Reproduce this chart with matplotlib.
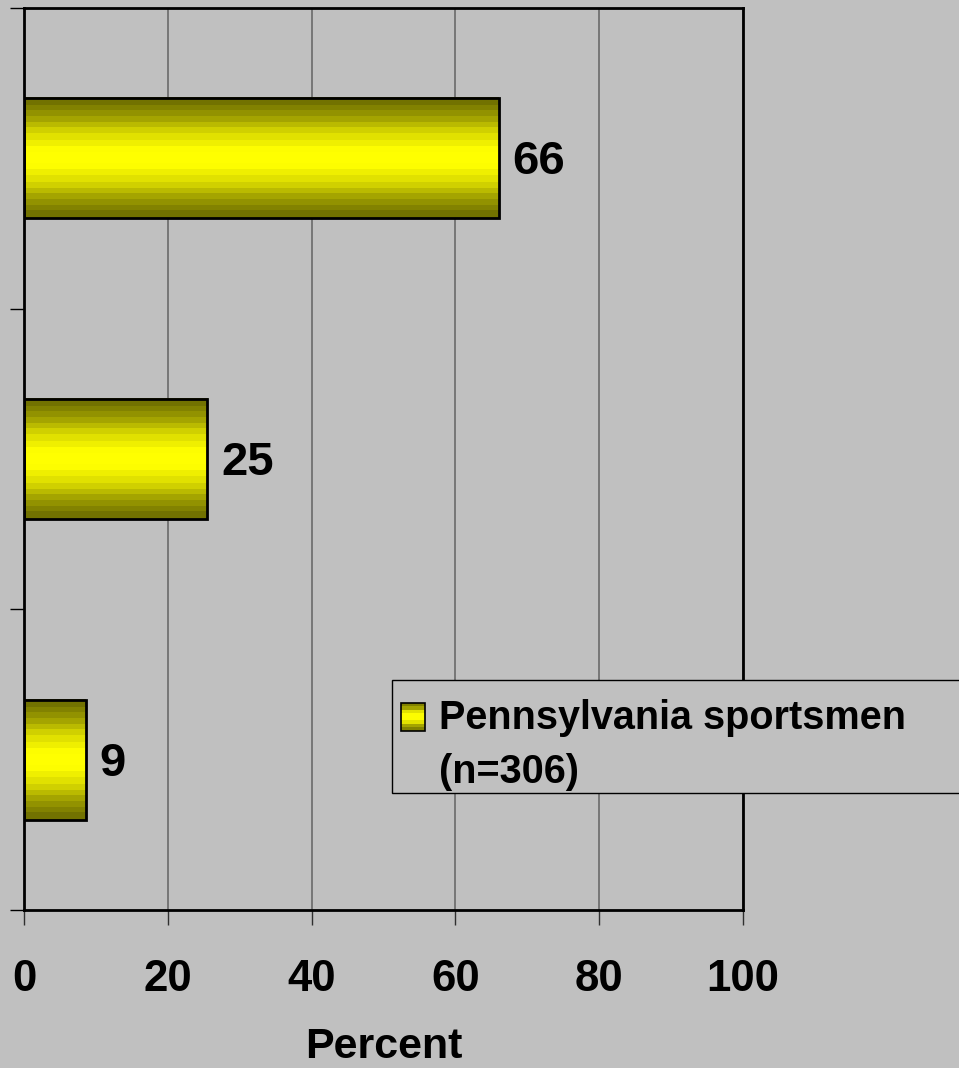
import numpy as np
import matplotlib
matplotlib.use("Agg")
import matplotlib.pyplot as plt
from matplotlib.colors import LinearSegmentedColormap
from matplotlib.patches import Rectangle
from matplotlib.legend_handler import HandlerBase

# ---- data (top to bottom) ----
categories = ["Group 1", "Group 2", "Group 3"]
values = [66.0, 25.5, 8.6]
value_labels = ["66", "25", "9"]
series_name = "Pennsylvania sportsmen\n(n=306)"
xticks = [0, 20, 40, 60, 80, 100]
xlabel = "Percent"

BG = "#C0C0C0"
plt.rcParams["font.family"] = ["Liberation Sans", "DejaVu Sans"]

grad_cmap = LinearSegmentedColormap.from_list(
    "olive_yellow",
    ["#727200", "#9E9E00", "#DADA00", "#FFFF00", "#FFFF00", "#DADA00", "#9E9E00", "#727200"],
    N=20)

fig = plt.figure(figsize=(9.59, 10.68), dpi=100, facecolor=BG)
ax = fig.add_axes([24/959, 1-910/1068, (743-24)/959, (910-8)/1068])
ax.set_facecolor(BG)

pos = np.arange(len(categories))
bars = ax.barh(pos, values, height=0.4, facecolor="none", edgecolor="black",
               linewidth=2, zorder=4)
grad = np.linspace(0, 1, 64).reshape(-1, 1)
for b in bars:
    x0, y0 = b.get_x(), b.get_y()
    w, h = b.get_width(), b.get_height()
    ax.imshow(grad, extent=[x0, x0 + w, y0, y0 + h], aspect="auto", cmap=grad_cmap,
              interpolation="nearest", zorder=3)

ax.set_xlim(0, 100)
ax.set_ylim(len(categories) - 0.5, -0.5)

vtexts = ax.bar_label(bars, labels=value_labels, padding=10, fontsize=34, fontweight="bold")
for t in vtexts:
    t.xyann = (10, -3)

ax.set_xticks(xticks)
ax.set_xticklabels([str(t) for t in xticks], fontsize=31.5, fontweight="bold")
ax.tick_params(axis="x", direction="out", length=11, width=1, color="#303030", pad=24)
ax.set_yticks(np.arange(len(categories) + 1) - 0.5)
ax.set_yticklabels([])
ax.tick_params(axis="y", direction="out", length=10, width=1, color="black")

ax.grid(axis="x", color="#6A6A6A", linewidth=1.2, zorder=1)
ax.set_axisbelow(True)
for s in ax.spines.values():
    s.set_color("black")
    s.set_linewidth(2)
    s.set_zorder(5)

ax.set_xlabel(xlabel, fontsize=31, fontweight="bold", labelpad=20)


class GradientHandler(HandlerBase):
    def __init__(self, shift=0.0, **kw):
        super().__init__(**kw)
        self.shift = shift

    def create_artists(self, legend, orig_handle, xdescent, ydescent, width, height,
                       fontsize, trans):
        n = 8
        arts = []
        y0 = -ydescent + self.shift
        for i in range(n):
            c = grad_cmap((i + 0.5) / n)
            arts.append(Rectangle((-xdescent, y0 + i * height / n), width, height / n,
                                  facecolor=c, edgecolor="none", transform=trans))
        arts.append(Rectangle((-xdescent, y0), width, height, facecolor="none",
                              edgecolor="black", linewidth=1.2, transform=trans))
        return arts


# legend frame
fig.patches.append(Rectangle((392/959, 1-793/1068), (975-392)/959, (793-680)/1068,
                             transform=fig.transFigure, facecolor=BG, edgecolor="black",
                             linewidth=1, zorder=6))
leg = fig.legend([bars], [series_name],
                 handler_map={type(bars): GradientHandler(shift=21)},
                 loc="upper left", bbox_to_anchor=(401/959, 1-699/1068),
                 frameon=False, prop={"size": 28.5, "weight": "bold"},
                 handlelength=0.6, handleheight=0.7, handletextpad=0.36,
                 borderpad=0, borderaxespad=0)
for t in leg.get_texts():
    t.set_linespacing(1.52)
leg.set_zorder(7)

fig.savefig("out.png", dpi=100, facecolor=BG)
